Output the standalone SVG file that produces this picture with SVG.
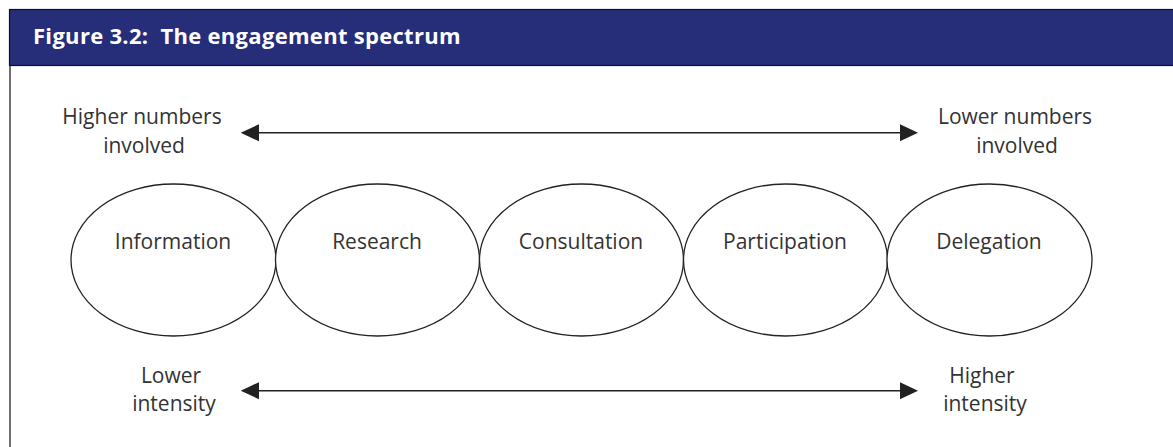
<svg xmlns="http://www.w3.org/2000/svg" width="1173" height="447" viewBox="0 0 1173 447">
<style>
.lbl{font-family:"Open Sans","Noto Sans","Liberation Sans",sans-serif;font-size:21px;fill:#333333;text-anchor:middle}
.title{font-family:"Open Sans","Noto Sans","Liberation Sans",sans-serif;font-size:22px;font-weight:bold;fill:#ffffff;letter-spacing:0.3px;white-space:pre}
.ell{fill:#ffffff;stroke:#222;stroke-width:1.3}
.line{stroke:#222;stroke-width:1.5;fill:none}
.head{fill:#222}
</style>
<rect x="0" y="0" width="1173" height="447" fill="#ffffff"/>
<g id="frame">
<rect x="9.5" y="9.5" width="1170" height="56" fill="#262d79" stroke="#111" stroke-width="1.2"/>
<line x1="10" y1="66" x2="10" y2="447" stroke="#222" stroke-width="1.3"/>
<text class="title" x="33" y="44" xml:space="preserve">Figure 3.2:  The engagement spectrum</text>
</g>
<g id="connectors">
<line class="line" x1="255" y1="132.8" x2="904" y2="132.8"/>
<polygon class="head" points="240.7,132.8 259,124.3 259,141.3"/>
<polygon class="head" points="918,132.8 900,124.3 900,141.3"/>
<line class="line" x1="255" y1="390.7" x2="904" y2="390.7"/>
<polygon class="head" points="240.7,390.7 259,382.2 259,399.2"/>
<polygon class="head" points="918,390.7 900,382.2 900,399.2"/>
</g>
<g id="label-top-left"><text class="lbl" x="142" y="124">Higher numbers</text><text class="lbl" x="144" y="153">involved</text></g>
<g id="label-top-right"><text class="lbl" x="1015" y="124">Lower numbers</text><text class="lbl" x="1017" y="153">involved</text></g>
<g id="label-bottom-left"><text class="lbl" x="171" y="383">Lower</text><text class="lbl" x="174" y="411">intensity</text></g>
<g id="label-bottom-right"><text class="lbl" x="982" y="383">Higher</text><text class="lbl" x="985" y="411">intensity</text></g>
<g id="node-information"><ellipse class="ell" cx="173.5" cy="260" rx="102.5" ry="76"/><text class="lbl" x="173" y="249">Information</text></g>
<g id="node-research"><ellipse class="ell" cx="377.5" cy="260" rx="102" ry="76"/><text class="lbl" x="377" y="249">Research</text></g>
<g id="node-consultation"><ellipse class="ell" cx="581.5" cy="260" rx="102" ry="76"/><text class="lbl" x="581" y="249">Consultation</text></g>
<g id="node-participation"><ellipse class="ell" cx="785.5" cy="260" rx="102" ry="76"/><text class="lbl" x="785" y="249">Participation</text></g>
<g id="node-delegation"><ellipse class="ell" cx="989.5" cy="260" rx="102.5" ry="76"/><text class="lbl" x="989" y="249">Delegation</text></g>
</svg>
